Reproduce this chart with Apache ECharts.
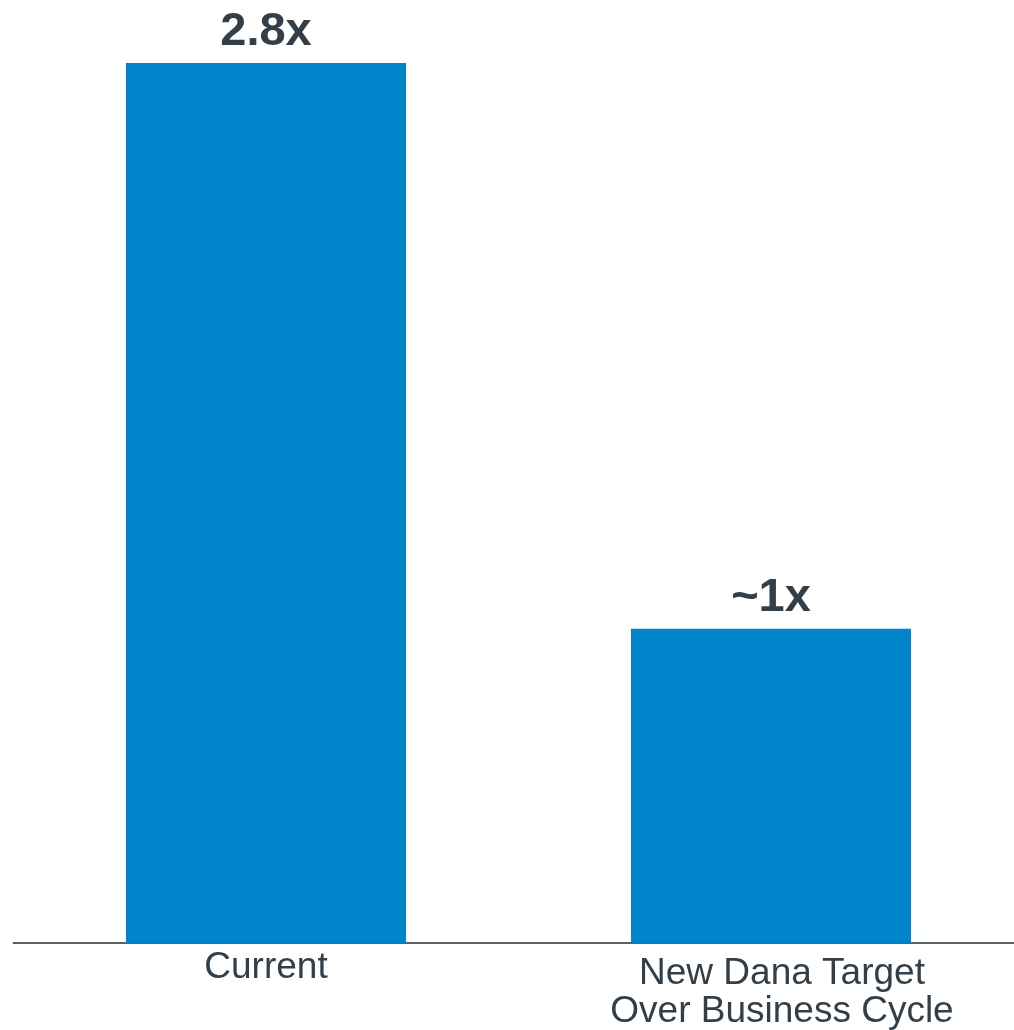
<!DOCTYPE html>
<html>
<head>
<meta charset="utf-8">
<script src="https://cdn.jsdelivr.net/npm/echarts@6/dist/echarts.min.js"></script>
<style>
html,body{margin:0;padding:0;background:#fff;}
#chart{width:1014px;height:1030px;}
</style>
</head>
<body>
<div id="chart"></div>
<script>
var categories = ['Current', 'New Dana Target\nOver Business Cycle'];
var values = [2.8, 1.0];
var valueLabels = ['2.8x', '~1x'];

var chart = echarts.init(document.getElementById('chart'), null, {renderer: 'canvas'});
chart.setOption({
  backgroundColor: '#ffffff',
  animation: false,
  grid: {left: 13.5, width: 1010, top: 63, bottom: 87, containLabel: false, outerBoundsMode: 'none'},
  xAxis: {
    type: 'category',
    data: categories.map(function (c, i) {
      return i === 1 ? {value: c, textStyle: {padding: [6, 0, 0, 22]}} : {value: c};
    }),
    axisLine: {show: true, lineStyle: {color: '#58616a', width: 2}},
    axisTick: {show: false},
    axisLabel: {
      interval: 0,
      margin: 6,
      fontFamily: 'Liberation Sans',
      fontSize: 37,
      lineHeight: 38,
      color: '#333f48'
    }
  },
  yAxis: {
    type: 'value',
    min: 0,
    max: 2.8,
    show: false,
    splitLine: {show: false}
  },
  series: [{
    type: 'bar',
    data: values,
    barWidth: 280,
    itemStyle: {color: '#0085ca'},
    label: {
      show: true,
      position: 'top',
      distance: 7,
      fontFamily: 'Liberation Sans',
      fontWeight: 'bold',
      fontSize: 47,
      color: '#333f48',
      formatter: function (p) { return valueLabels[p.dataIndex]; }
    }
  }]
});
</script>
</body>
</html>
